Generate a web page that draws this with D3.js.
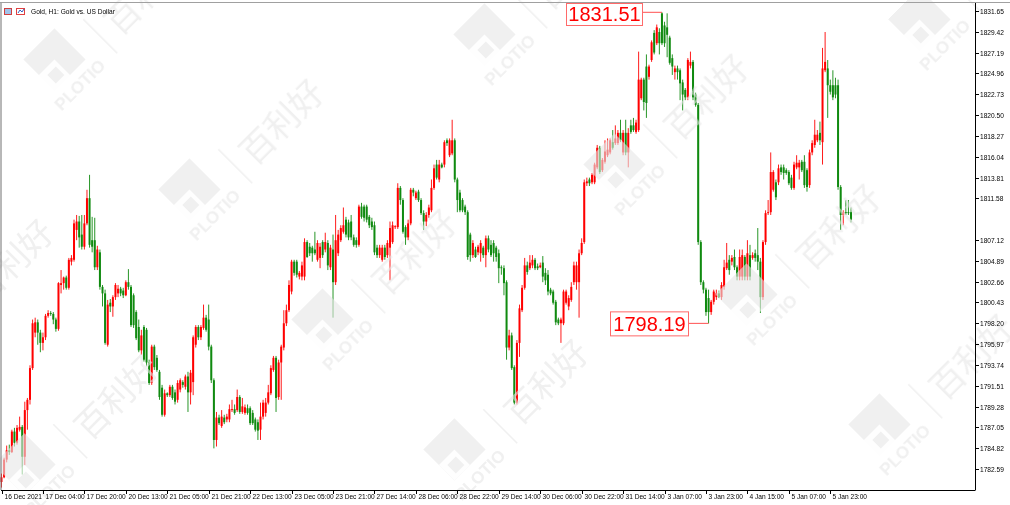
<!DOCTYPE html>
<html><head><meta charset="utf-8">
<script src="https://cdn.jsdelivr.net/npm/d3@7"></script>
<style>html,body{margin:0;padding:0;background:#fff;overflow:hidden}</style>
</head><body><svg id="c" width="1010" height="505"></svg>
<script>
const open = [
1781.2,1781.7,1783.6,1784.6,1784.4,1786.6,1785.4,1786.8,1787.1,1783.9,
1788.9,1790.0,1793.4,1797.2,1798.3,1797.2,1796.1,1796.7,1799.0,1799.3,
1799.2,1798.6,1797.6,1802.3,1802.5,1803.1,1802.0,1804.8,1805.0,1808.2,
1809.1,1807.7,1806.4,1808.9,1811.6,1807.1,1807.1,1804.2,1805.8,1802.1,
1801.4,1795.9,
1800.4,1800.0,1801.0,1801.4,1801.9,1801.7,1801.2,1802.6,
1802.1,1801.2,1799.4,1797.8,1795.3,1797.8,1797.5,1794.0,1791.8,1795.7,
1794.5,1793.0,1791.3,1788.4,1790.7,1790.5,1791.4,1790.8,1790.0,1791.1,
1791.9,1791.4,1792.5,1790.8,1791.9,1795.9,1797.8,1796.7,1797.7,1798.8,
1798.6,1795.7,1792.1,
1785.7,1788.1,1787.2,1788.1,1787.9,1787.9,1788.9,
1789.0,1788.9,1790.3,1788.7,1788.6,1789.1,1789.1,1788.6,1787.9,1787.6,
1786.8,1788.2,1788.6,1789.7,1790.7,1793.2,1794.5,1790.3,1794.0,1795.6,
1798.2,1799.6,1801.6,1804.8,1804.8,1803.2,1803.2,1803.2,1806.9,1806.4,
1806.3,1806.1,1805.0,1805.2,1806.9,1806.1,1806.8,1804.2,1806.1,1802.6,
1805.7,1807.1,1808.0,1809.3,1809.0,1809.1,1807.4,1807.1,1806.6,1810.7,
1810.7,1810.7,1809.6,1809.1,1808.7,1806.3,1805.5,1805.0,1806.3,1805.5,
1806.3,
1806.9,1808.5,1808.5,1812.7,1811.4,1808.5,1807.4,1808.9,1812.5,
1811.6,1812.3,1811.4,1810.0,1809.1,1809.8,1810.3,1812.7,1815.2,1813.6,
1815.2,1815.2,1817.8,1816.2,1816.4,1817.8,1813.6,1812.2,1811.4,1810.7,
1810.1,1807.7,1805.5,1806.1,1805.8,1805.7,1806.3,1805.5,1807.3,1806.6,
1806.8,1806.3,1805.7,1804.2,1804.1,1802.6,1795.6,1796.9,1793.5,1789.7,
1796.1,1799.6,1802.0,1804.4,1804.1,1804.4,1805.0,1804.3,1804.2,1804.7,
1803.6,1803.4,1801.8,1801.6,1800.5,1798.6,1798.2,1798.2,1800.4,1800.0,
1800.7,1802.6,1802.6,1802.6,1805.7,1806.9,1813.2,1813.6,1813.3,1813.3,
1814.9,1817.0,1814.6,1815.5,1816.2,1816.5,1817.6,1817.5,1817.5,1818.6,
1816.5,1818.6,
1816.5,1819.4,1819.4,1818.7,1818.9,1822.3,1824.3,1825.7,
1824.6,1826.4,1829.3,1828.2,1829.4,1831.4,1830.1,1829.9,1828.8,1826.6,
1825.1,1825.5,1825.3,1824.0,1823.2,1822.4,1825.8,1826.2,1822.7,1821.6,
1806.9,1802.6,1801.8,1800.9,1799.4,1800.5,1801.0,1801.4,1801.0,1802.1,
1804.1,1805.0,1804.8,1805.3,1804.2,1803.2,1803.2,1805.3,1803.2,
1805.5,1805.2,1805.7,1805.5,1804.8,1801.0,1806.9,1810.0,1810.1,1812.5,1813.3,
1813.3,1814.9,1814.9,1814.6,1814.4,1813.8,1812.7,1814.9,1814.9,1815.5,
1815.5,1814.6,1813.0,1816.5,1817.3,1817.8,1818.6,1817.6,1825.3,1825.5,
1823.7,1823.7,1823.7,1823.7,1812.8,1809.8,1810.1,1810.1,1810.1
];
const high = [
1782.1,1783.8,1785.1,1785.2,1786.8,1787.0,1787.3,1788.2,1787.3,1789.8,
1790.2,1793.7,1798.6,1798.8,1798.6,1797.5,1797.2,1799.2,1799.6,1799.5,
1799.4,1798.8,1802.6,1803.9,1803.2,1803.3,1805.2,1805.5,1809.3,1809.8,
1809.7,1809.8,1809.8,1812.5,1814.1,1809.6,1809.5,1806.5,1806.1,1802.3,
1801.8,1800.7,
1800.8,1801.2,1802.5,1802.3,1802.1,1802.0,1802.8,1804.0,
1802.3,1801.4,1799.6,1798.6,1797.5,1798.0,1797.7,1794.3,1795.9,1795.9,
1794.8,1793.2,1791.6,1791.1,1790.8,1791.6,1791.6,1791.1,1792.1,1792.3,
1792.1,1792.7,1793.0,1793.2,1796.9,1798.0,1798.0,1798.0,1800.2,1799.1,
1800.2,1795.9,1792.3,
1788.7,1788.4,1788.9,1788.4,1788.5,1789.5,1790.0,
1789.5,1791.1,1790.5,1790.2,1789.5,1789.5,1789.3,1788.9,1788.1,1787.9,
1789.7,1790.0,1790.2,1791.6,1793.7,1794.7,1794.7,1794.3,1795.9,1799.6,
1800.2,1802.8,1805.0,1805.0,1805.0,1803.8,1804.8,1807.3,1807.1,1806.8,
1806.5,1808.0,1807.1,1806.8,1807.1,1807.9,1807.1,1806.6,1807.7,1809.8,
1808.2,1808.7,1810.6,1809.6,1809.3,1809.8,1807.7,1807.4,1810.9,1811.1,
1810.9,1810.9,1809.8,1809.5,1809.1,1806.6,1806.6,1806.6,1806.6,1807.1,
1809.1,
1809.1,1808.7,1813.2,1812.9,1811.6,1808.7,1809.3,1812.7,1812.7,
1812.4,1812.5,1811.6,1810.3,1810.1,1810.9,1813.6,1815.2,1815.7,1815.7,
1815.4,1817.8,1818.0,1818.0,1820.0,1818.0,1813.8,1812.5,1811.6,1810.9,
1810.3,1807.9,1807.1,1806.4,1806.6,1807.1,1806.5,1807.6,1807.6,1807.1,
1807.1,1806.5,1806.1,1804.4,1804.4,1802.8,1797.5,1797.2,1793.7,1796.4,
1800.2,1802.3,1805.2,1804.8,1805.5,1805.5,1805.2,1804.6,1804.7,1805.4,
1804.1,1803.9,1802.0,1801.8,1800.7,1798.8,1798.8,1801.8,1801.8,1801.2,
1802.6,1804.8,1804.8,1806.1,1807.3,1813.6,1813.8,1813.8,1814.3,1815.4,
1817.3,1817.2,1815.9,1817.8,1818.0,1818.0,1818.9,1819.4,1818.9,1820.0,
1818.9,1820.0,
1819.1,1820.0,1820.2,1820.0,1827.3,1824.5,1824.5,1827.0,
1825.9,1828.5,1829.6,1830.2,1829.8,1831.51,1830.5,1831.4,1829.0,1827.0,
1825.8,1825.8,1825.5,1824.3,1823.4,1826.6,1827.3,1826.4,1822.9,1821.8,
1807.1,1802.8,1802.0,1801.8,1800.7,1801.8,1801.8,1801.7,1802.6,1805.0,
1806.8,1805.5,1805.5,1806.1,1804.4,1806.1,1806.1,1805.5,1807.1,
1806.6,1805.8,1806.1,1808.4,1805.2,1807.1,1810.3,1811.4,1816.5,1814.6,1813.6,
1815.2,1815.2,1815.2,1814.8,1814.6,1814.1,1815.5,1816.2,1815.7,1815.7,
1816.2,1814.8,1816.8,1817.8,1820.0,1818.9,1819.8,1827.7,1829.4,1826.4,
1824.3,1825.3,1824.5,1824.3,1813.0,1810.3,1811.4,1811.4,1810.6
];
const low = [
1780.6,1781.6,1783.3,1784.1,1784.3,1785.0,1785.2,1786.6,1782.0,1783.0,
1786.8,1789.5,1793.2,1796.7,1795.9,1795.1,1795.3,1796.4,1798.8,1799.0,
1798.1,1797.3,1797.4,1801.4,1801.8,1801.8,1801.8,1804.4,1804.8,1807.1,
1806.3,1806.1,1806.1,1808.7,1806.3,1805.8,1803.9,1803.9,1801.8,1800.0,
1795.9,1795.7,
1799.4,1798.9,1800.7,1801.0,1801.1,1800.9,1801.1,1801.8,
1797.8,1797.7,1796.4,1795.1,1794.8,1794.1,1793.6,1791.6,1791.6,1793.2,
1793.0,1790.0,1788.2,1788.2,1790.3,1790.3,1790.0,1789.5,1789.7,1790.8,
1791.3,1791.1,1788.7,1789.5,1790.5,1795.6,1796.4,1796.4,1797.5,1797.3,
1795.3,1791.8,1784.8,
1785.0,1787.3,1787.0,1787.4,1787.6,1787.6,1788.7,
1788.4,1788.7,1788.5,1788.5,1788.4,1788.4,1787.3,1787.3,1786.6,1785.7,
1785.7,1787.9,1788.2,1789.5,1790.5,1793.0,1788.7,1790.0,1790.0,1795.3,
1797.9,1799.4,1801.3,1803.3,1803.1,1802.9,1802.8,1802.8,1805.2,1805.4,
1804.8,1805.5,1804.8,1804.1,1805.2,1805.8,1803.9,1803.9,1798.8,1802.3,
1805.4,1806.9,1807.8,1807.4,1807.1,1807.1,1806.4,1806.3,1806.4,1809.4,
1809.1,1809.0,1808.4,1808.2,1805.5,1805.2,1805.2,1804.8,1805.0,1805.2,
1802.8,
1806.7,1808.3,1808.3,1810.9,1807.8,1806.6,1807.1,1808.7,1811.8,
1811.4,1811.2,1809.8,1808.2,1808.6,1809.5,1810.1,1812.5,1813.6,1813.3,
1814.8,1814.9,1817.2,1816.0,1816.2,1813.3,1810.1,1810.1,1810.1,1809.8,
1805.0,1804.8,1805.2,1805.2,1805.5,1804.8,1805.2,1804.2,1805.8,1805.3,
1804.8,1804.8,1802.5,1803.4,1801.2,1794.3,1795.3,1793.2,1789.5,1789.5,
1794.6,1799.4,1801.8,1803.4,1803.9,1804.1,1803.9,1803.9,1804.1,1802.6,
1802.3,1801.2,1801.2,1800.2,1798.0,1798.0,1796.1,1798.0,1800.2,1799.6,
1800.5,1802.3,1801.8,1798.8,1805.5,1806.7,1812.9,1812.9,1813.1,1813.1,
1814.7,1814.2,1814.4,1815.3,1816.0,1816.3,1816.8,1817.3,1817.3,1817.6,
1816.2,1816.2,
1814.9,1818.5,1818.7,1818.5,1818.7,1822.1,1821.0,1820.2,
1824.3,1826.2,1827.0,1828.0,1827.0,1828.0,1827.8,1826.7,1825.9,1824.8,
1824.3,1824.3,1822.1,1821.0,1822.1,1822.1,1825.5,1822.1,1821.4,1806.6,
1802.3,1801.4,1799.0,1798.19,1799.1,1800.2,1800.7,1800.9,1800.7,1801.8,
1803.9,1803.4,1804.4,1803.9,1802.8,1802.8,1802.8,1802.8,1802.8,
1802.8,1805.0,1804.8,1803.9,1799.3,1800.7,1806.6,1809.8,1809.8,1812.3,1811.4,
1813.0,1814.1,1813.6,1814.1,1813.0,1812.5,1812.5,1814.7,1813.6,1814.4,
1812.7,1812.3,1812.7,1816.2,1817.0,1817.6,1817.3,1815.2,1825.1,1820.2,
1822.7,1822.1,1822.3,1812.5,1808.2,1808.7,1809.8,1809.8,1809.0
];
const close = [
1781.7,1783.6,1784.6,1784.4,1786.6,1785.4,1787.0,1787.1,1783.9,1788.9,
1790.0,1793.4,1798.2,1798.3,1797.2,1796.1,1796.7,1799.0,1799.3,1799.2,
1798.6,1797.6,1802.5,1802.5,1803.1,1802.0,1805.0,1805.2,1808.9,1809.1,
1807.4,1806.4,1808.9,1811.6,1806.6,1806.4,1804.2,1806.1,1802.1,1801.4,
1796.1,1800.2,
1800.0,1801.0,1802.3,1801.9,1801.4,1801.2,1802.6,1802.1,
1798.0,1798.0,1796.6,1795.3,1796.9,1794.3,1794.0,1791.8,1795.7,1793.5,
1793.2,1790.3,1788.4,1790.7,1790.5,1791.4,1790.2,1789.8,1791.8,1792.1,
1791.6,1792.5,1790.8,1792.9,1796.7,1797.8,1796.7,1797.8,1798.8,1797.5,
1795.7,1792.1,1785.7,
1788.1,1787.5,1788.2,1787.6,1788.2,1789.0,1789.0,
1788.6,1790.3,1788.7,1789.3,1789.2,1788.6,1787.5,1787.5,1786.8,1786.7,
1788.2,1789.7,1789.7,1790.8,1793.4,1794.5,1790.2,1794.0,1795.7,1798.2,
1799.6,1802.3,1804.8,1803.6,1803.4,1803.6,1804.4,1806.9,1805.3,1805.7,
1805.7,1805.7,1806.8,1806.4,1805.5,1806.9,1804.4,1806.3,1802.6,1807.1,
1807.7,1808.4,1808.7,1807.7,1807.4,1807.4,1806.6,1806.6,1810.7,1809.6,
1809.5,1809.3,1808.7,1808.5,1805.8,1805.5,1806.3,1806.3,1805.3,1806.8,
1808.4,
1808.7,1808.6,1812.7,1811.4,1808.0,1807.4,1808.9,1812.5,1812.2,
1812.2,1811.4,1810.0,1809.1,1809.8,1810.6,1812.7,1814.8,1813.8,1815.2,
1814.9,1817.6,1817.5,1817.8,1817.8,1813.6,1811.4,1810.3,1810.3,1810.1,
1805.3,1805.5,1806.8,1805.3,1806.4,1806.8,1805.5,1807.3,1806.1,1805.5,
1805.7,1805.3,1804.1,1804.1,1802.5,1795.6,1796.9,1793.4,1789.7,1796.1,
1799.8,1802.0,1804.4,1803.7,1804.7,1805.0,1804.1,1804.1,1804.4,1803.2,
1802.8,1801.6,1801.4,1800.4,1798.3,1798.2,1798.6,1801.6,1801.6,1800.9,
1802.1,1804.4,1804.4,1805.7,1806.8,1813.3,1813.4,1813.2,1814.1,1815.2,
1817.0,1814.4,1815.7,1816.6,1816.8,1817.8,1817.0,1818.0,1818.6,1817.8,
1818.6,1816.5,
1818.6,1818.7,1818.9,1819.7,1824.3,1824.3,1821.9,1821.8,
1825.7,1828.3,1827.2,1829.9,1828.2,1828.2,1828.2,1829.1,1826.1,1825.7,
1825.5,1825.1,1823.9,1822.7,1822.4,1826.4,1826.2,1822.4,1821.6,1806.9,
1802.6,1801.8,1799.4,1799.4,1800.5,1801.6,1801.4,1801.0,1802.3,1804.2,
1804.7,1803.9,1805.2,1804.2,1803.2,1805.3,1805.5,1803.2,1805.7,
1803.2,1805.5,1805.2,1804.8,1801.0,1806.9,1810.0,1810.1,1814.4,1814.4,1811.7,
1814.8,1814.4,1814.3,1814.3,1813.2,1812.7,1815.2,1815.4,1815.4,1814.6,
1813.0,1812.8,1816.5,1817.5,1818.4,1818.4,1817.8,1825.5,1826.2,1823.7,
1823.0,1822.4,1822.7,1812.8,1809.8,1810.1,1810.0,1810.0,1809.3
];
const xTickBars = [0,16,32,48,64,80,96,112,128,144,160,176,192,208,224,240,256,272,288,304,320];
const xTickLabels = ["16 Dec 2021","17 Dec 04:00","17 Dec 20:00","20 Dec 13:00","21 Dec 05:00","21 Dec 21:00",
  "22 Dec 13:00","23 Dec 05:00","23 Dec 21:00","27 Dec 14:00","28 Dec 06:00","28 Dec 22:00","29 Dec 14:00",
  "30 Dec 06:00","30 Dec 22:00","31 Dec 14:00","3 Jan 07:00","3 Jan 23:00","4 Jan 15:00","5 Jan 07:00","5 Jan 23:00"];
const yTickLabels = ["1831.65","1829.42","1827.19","1824.96","1822.73","1820.50","1818.27","1816.04","1813.81",
  "1811.58","1807.12","1804.89","1802.66","1800.43","1798.20","1795.97","1793.74","1791.51","1789.28",
  "1787.05","1784.82","1782.59"];
const title = "Gold, H1:  Gold vs. US Dollar";
const maxMark = {bar:255, value:1831.51};
const minMark = {bar:273, value:1798.19};

const n = Math.min(open.length, high.length, low.length, close.length);
const svg = d3.select("#c");
const L = 1, R = 975, T = 3, B = 490;
const x = d3.scaleLinear().domain([0, 320]).range([1.5, 1.5 + 320 * 2.59]);
const y = d3.scaleLinear().domain([1782.59, 1831.65]).range([469, 11]);
const RED = "#ff0000", GREEN = "#108a10";
const FONT = "'Liberation Sans', Arial, sans-serif";

svg.append("rect").attr("width", 1010).attr("height", 505).attr("fill", "#fff");

// candles
const cg = svg.append("g");
d3.range(n).forEach(i => {
  const up = close[i] >= open[i];
  const col = up ? RED : GREEN;
  const cx = x(i);
  cg.append("line").attr("x1", cx).attr("x2", cx)
    .attr("y1", y(high[i])).attr("y2", y(low[i]))
    .attr("stroke", col).attr("stroke-width", 0.9);
  const yt = y(Math.max(open[i], close[i])), yb = y(Math.min(open[i], close[i]));
  cg.append("rect").attr("x", cx - 1).attr("width", 2)
    .attr("y", yt).attr("height", Math.max(0.8, yb - yt)).attr("fill", col);
});

// watermarks (decorative overlay)
const wm = svg.append("g").attr("fill", "#e6e6e6").attr("opacity", 0.6);
const units = [[70,75],[205,205],[338,335],[470,465],[-65,345],[40,480],[630,180],[762,310],[895,440],[500,50],[935,35]];
units.forEach(([ux, uy]) => {
  const g = wm.append("g").attr("transform", `translate(${ux},${uy}) rotate(-45)`);
  g.append("rect").attr("x", -22).attr("y", -44).attr("width", 44).attr("height", 44);
  g.append("rect").attr("x", -22).attr("y", -22).attr("width", 22).attr("height", 22).attr("fill", "#fff").attr("opacity", 0.9);
  g.append("rect").attr("x", -16).attr("y", -16).attr("width", 12).attr("height", 12);
  g.append("text").attr("x", 0).attr("y", 20).attr("text-anchor", "middle")
    .attr("font-family", FONT).attr("font-weight", "bold").attr("font-size", 17).text("PLOTIO");
  g.append("rect").attr("x", 48).attr("y", -30).attr("width", 1.5).attr("height", 48);
  g.append("text").attr("x", 62).attr("y", 8).attr("font-family", "'Noto Sans CJK SC', sans-serif")
    .attr("font-size", 34).text("百利好");
});

// frame
svg.append("line").attr("x1", 0).attr("x2", 1010).attr("y1", 2.5).attr("y2", 2.5).attr("stroke", "#a0a0a0");
svg.append("line").attr("x1", L).attr("x2", L).attr("y1", T).attr("y2", B).attr("stroke", "#707070");
svg.append("line").attr("x1", R + 0.5).attr("x2", R + 0.5).attr("y1", T).attr("y2", B).attr("stroke", "#000");
svg.append("line").attr("x1", L).attr("x2", R + 0.5).attr("y1", B + 0.5).attr("y2", B + 0.5).attr("stroke", "#000");

// y axis
const yTicks = yTickLabels.map(Number);
const ya = svg.append("g");
yTicks.forEach((v, k) => {
  const yy = Math.round(y(v)) + 0.5;
  ya.append("line").attr("x1", R).attr("x2", R + 4).attr("y1", yy).attr("y2", yy).attr("stroke", "#000");
  ya.append("text").attr("x", R + 5).attr("y", yy + 2.3).attr("font-family", FONT).attr("font-size", 6.6)
    .attr("fill", "#000").text(yTickLabels[k]);
});

// x axis
const xa = svg.append("g");
xTickBars.forEach((b, k) => {
  const xx = Math.round(x(b)) + 0.5;
  xa.append("line").attr("x1", xx).attr("x2", xx).attr("y1", B).attr("y2", B + 4).attr("stroke", "#000");
  xa.append("text").attr("x", xx + 2).attr("y", B + 8.5).attr("font-family", FONT).attr("font-size", 6.6)
    .attr("fill", "#000").text(xTickLabels[k]);
});

// title
svg.append("rect").attr("x", 4.5).attr("y", 8.5).attr("width", 7).attr("height", 6).attr("fill", "#9fc3ea").attr("stroke", "#d04040");
svg.append("rect").attr("x", 16.5).attr("y", 8.5).attr("width", 8).attr("height", 6).attr("fill", "#fff").attr("stroke", "#e04040");
svg.append("path").attr("d", "M18,13 L20,10 L22,12 L24,9").attr("stroke", "#3060c0").attr("fill", "none");
svg.append("text").attr("x", 31).attr("y", 14).attr("font-family", FONT).attr("font-size", 6.6).attr("fill", "#000").text(title);

// max / min markers
function marker(m, boxX, boxW, boxH, topY) {
  const yy = y(m.value);
  const bx = x(m.bar);
  svg.append("line").attr("x1", boxX + boxW).attr("x2", bx).attr("y1", yy).attr("y2", yy).attr("stroke", "#ff5050").attr("stroke-width", 1);
  svg.append("rect").attr("x", boxX + 0.5).attr("y", topY + 0.5).attr("width", boxW).attr("height", boxH)
    .attr("fill", "#fff").attr("stroke", "#ff6a6a");
  svg.append("text").attr("x", boxX + boxW / 2 + 0.5).attr("y", topY + boxH - 4).attr("text-anchor", "middle")
    .attr("font-family", FONT).attr("font-size", 20).attr("fill", "#ff0000").text(m.value.toFixed(2));
}
marker(maxMark, 566, 76, 22, 3);
marker(minMark, 610, 78, 24, y(minMark.value) - 12);
</script>
</body></html>
